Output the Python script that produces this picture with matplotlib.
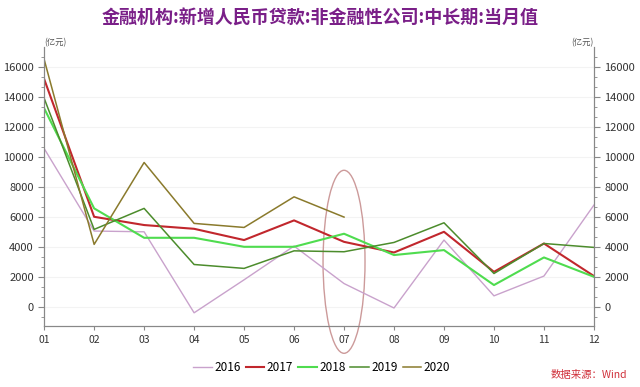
import matplotlib.pyplot as plt
from matplotlib.patches import Ellipse
from matplotlib.ticker import AutoMinorLocator

plt.rcParams['font.family'] = ['Noto Sans CJK SC', 'DejaVu Sans']

# Monthly values, 100 million yuan
months = ['01', '02', '03', '04', '05', '06', '07', '08', '09', '10', '11', '12']
y2016 = [10550, 5050, 5000, -400, 1800, 4050, 1550, -80, 4450, 730, 2050, 6780]
y2017 = [15180, 6000, 5450, 5200, 4450, 5760, 4330, 3620, 5000, 2330, 4220, 2050]
y2018 = [13230, 6560, 4600, 4600, 4000, 4000, 4870, 3450, 3780, 1450, 3290, 2000]
y2019 = [13900, 5160, 6560, 2820, 2560, 3730, 3670, 4290, 5600, 2220, 4220, 3960]
y2020 = [16490, 4160, 9620, 5560, 5290, 7330, 5980]

series = [
    ('2016', y2016, '#c9a2cc', 1.0),
    ('2017', y2017, '#c1272d', 1.5),
    ('2018', y2018, '#4fdc4f', 1.5),
    ('2019', y2019, '#4c8c2c', 1.1),
    ('2020', y2020, '#8a7a2c', 1.1),
]

fig = plt.figure(figsize=(6.4, 3.87), dpi=100)
ax = fig.add_axes([0.069, 0.158, 0.859, 0.721])

x = list(range(1, 13))
for name, vals, color, lw in series:
    ax.plot(x[:len(vals)], vals, color=color, lw=lw, label=name)

ax.set_xlim(1, 12)
ax.set_ylim(-1270, 17330)
ax.set_xticks(x)
ax.set_xticklabels(months)
ax.set_yticks(range(0, 16001, 2000))
ax.yaxis.set_minor_locator(AutoMinorLocator(3))
ax.grid(axis='y', color='#f3f3f3', lw=0.8)
ax.set_axisbelow(True)

ax2 = ax.twinx()
ax2.set_ylim(ax.get_ylim())
ax2.set_yticks(range(0, 16001, 2000))
ax2.yaxis.set_minor_locator(AutoMinorLocator(3))

for a in (ax, ax2):
    a.spines['top'].set_visible(False)
    for s in ('left', 'right', 'bottom'):
        a.spines[s].set_color('#888888')
    a.tick_params(axis='y', which='major', length=4, color='#888888', labelsize=8, labelcolor='#333333')
    a.tick_params(axis='y', which='minor', length=2, color='#888888')
ax.tick_params(axis='x', length=3, color='#888888', labelsize=7.5, labelcolor='#333333')

ax.text(0.0, 1.0, '(亿元)', transform=ax.transAxes, fontsize=6, color='#555555',
        ha='left', va='bottom')
ax.text(1.0, 1.0, '(亿元)', transform=ax.transAxes, fontsize=6, color='#555555',
        ha='right', va='bottom')

# highlight circle around July
ell = Ellipse((7, 3000), width=0.84, height=12200, fill=False,
              edgecolor='#cc9a9a', lw=1.0, clip_on=False)
ax.add_patch(ell)

fig.text(0.5, 0.953, '金融机构:新增人民币贷款:非金融性公司:中长期:当月值',
         ha='center', va='center', fontsize=13, fontweight='bold', color='#7a1f88')

ax.legend(loc='center', bbox_to_anchor=(0.505, -0.15), ncol=5, frameon=False,
          fontsize=8.5, handlelength=1.6, handletextpad=0.2, columnspacing=0.4)

fig.text(0.98, 0.03, '数据来源：Wind', ha='right', va='center', fontsize=7.5,
         color='#d0303a', style='italic')

fig.savefig('out.png', dpi=100)
